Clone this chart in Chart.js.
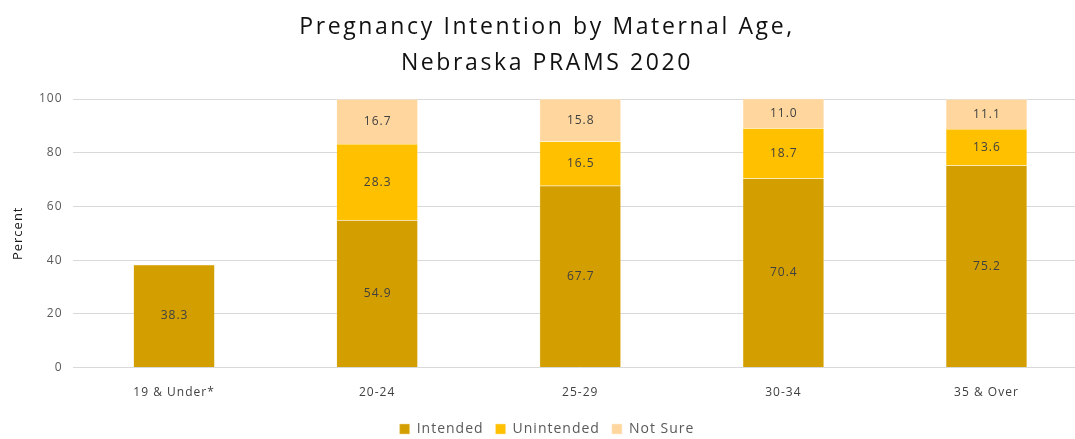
<!DOCTYPE html>
<html>
<head>
<meta charset="utf-8">
<script src="https://cdn.jsdelivr.net/npm/chart.js@4/dist/chart.umd.min.js"></script>
<style>
html,body{margin:0;padding:0;background:#fff;overflow:hidden;width:1075px;height:439px;}
#wrap{position:relative;width:1102px;height:448px;}
</style>
</head>
<body>
<div id="wrap"><canvas id="c"></canvas></div>
<script>
const categories = ["19 & Under*", "20-24", "25-29", "30-34", "35 & Over"];
const intended = [38.3, 54.9, 67.7, 70.4, 75.2];
const unintended = [null, 28.3, 16.5, 18.7, 13.6];
const notSure = [null, 16.7, 15.8, 11.0, 11.1];
const yTicks = [0, 20, 40, 60, 80, 100];
const titleLines = ["Pregnancy Intention by Maternal Age,", "Nebraska PRAMS 2020"];

const FONT = "'Open Sans', 'Liberation Sans', sans-serif";

const spacing = {
  id: 'spacing',
  beforeUpdate(chart) { chart.ctx.letterSpacing = '1px'; },
  beforeLayout(chart) { chart.ctx.letterSpacing = '1px'; },
  beforeDraw(chart) { chart.ctx.letterSpacing = '1px'; }
};

const titleDraw = {
  id: 'titleDraw',
  afterDraw(chart) {
    const ctx = chart.ctx;
    ctx.save();
    ctx.letterSpacing = '2.6px';
    ctx.font = "23px " + FONT;
    ctx.fillStyle = '#111111';
    ctx.textAlign = 'center';
    ctx.textBaseline = 'middle';
    const cx = 547;
    ctx.fillText(titleLines[0], cx, 27);
    ctx.fillText(titleLines[1], cx, 63);
    ctx.restore();
  }
};

const valueLabels = {
  id: 'valueLabels',
  afterDatasetsDraw(chart) {
    const ctx = chart.ctx;
    ctx.save();
    ctx.letterSpacing = '1px';
    ctx.font = "12px " + FONT;
    ctx.fillStyle = "#404040";
    ctx.textAlign = "center";
    ctx.textBaseline = "middle";
    chart.data.datasets.forEach((ds, i) => {
      const meta = chart.getDatasetMeta(i);
      meta.data.forEach((el, j) => {
        const v = ds.data[j];
        if (v === null || v === undefined) return;
        const p = el.getCenterPoint();
        ctx.fillText(v.toFixed(1), p.x + 0.5, p.y);
      });
    });
    ctx.restore();
  }
};

new Chart(document.getElementById('c'), {
  type: 'bar',
  data: {
    labels: categories,
    datasets: [
      { label: 'Intended', data: intended, backgroundColor: '#D39F00', borderColor: '#F0DA9A', borderWidth: 0.5 },
      { label: 'Unintended', data: unintended, backgroundColor: '#FFC000', borderColor: '#FFE59A', borderWidth: 0.5 },
      { label: 'Not Sure', data: notSure, backgroundColor: '#FFD79E', borderColor: '#FFEBD0', borderWidth: 0.5 }
    ]
  },
  options: {
    responsive: true,
    maintainAspectRatio: false,
    animation: false,
    layout: { padding: { left: 6, right: 14, top: 99, bottom: 2 } },
    datasets: { bar: { barPercentage: 1.0, categoryPercentage: 0.40 } },
    plugins: {
      title: { display: false },
      legend: {
        position: 'bottom',
        labels: {
          boxWidth: 10, boxHeight: 10,
          font: { family: FONT, size: 14 },
          color: '#595959',
          padding: 12
        }
      },
      tooltip: { enabled: false }
    },
    scales: {
      x: {
        stacked: true,
        grid: { display: false },
        border: { display: false },
        ticks: { font: { family: FONT, size: 12 }, color: '#404040', padding: 10 }
      },
      y: {
        stacked: true,
        min: 0, max: 100,
        afterBuildTicks(axis) { axis.ticks = yTicks.map(v => ({ value: v })); },
        afterFit(axis) { axis.width = 66.5; },
        grid: { color: '#D9D9D9', lineWidth: 1, drawTicks: false },
        border: { display: false },
        ticks: { font: { family: FONT, size: 12 }, color: '#595959', padding: 10 },
        title: { display: true, text: 'Percent', font: { family: FONT, size: 13 }, color: '#1a1a1a', padding: { top: 4, bottom: 4 } }
      }
    }
  },
  plugins: [spacing, valueLabels, titleDraw]
});
</script>
</body>
</html>
